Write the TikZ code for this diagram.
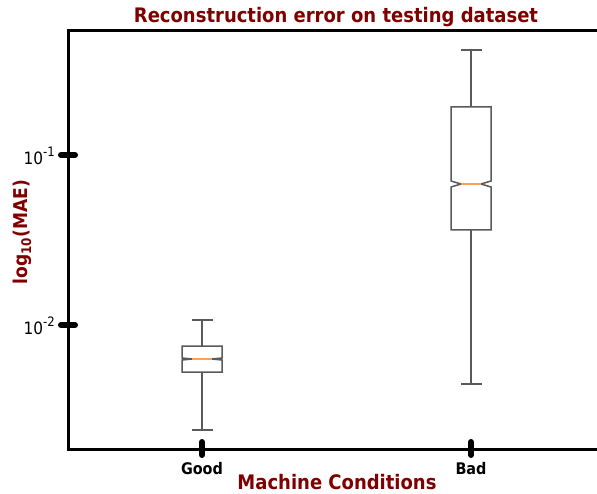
\documentclass[tikz,border=0pt]{standalone}
\usepackage{fontspec}
\setmainfont{DejaVu Sans Condensed}
\definecolor{titlered}{RGB}{128,0,0}
\definecolor{boxgrey}{RGB}{90,90,90}
\definecolor{medorange}{RGB}{255,160,90}
\begin{document}
\begin{tikzpicture}[x=1pt,y=-1pt,
  spine/.style={line width=3pt,black},
  ticklen/.style={line width=6pt,black,line cap=round},
  boxline/.style={draw=boxgrey,line width=1.5pt,line join=miter},
  whisk/.style={draw=boxgrey,line width=1.3pt},
  median/.style={draw=medorange,line width=1.5pt},
  redlabel/.style={text=titlered,font=\bfseries\fontsize{20}{22}\selectfont,inner sep=0pt},
  ticklabel/.style={font=\bfseries\fontsize{16}{18}\selectfont,inner sep=0pt},
  powlabel/.style={font=\fontsize{17}{19}\selectfont,inner sep=0pt,anchor=east}]
\useasboundingbox (0,0) rectangle (597,494);
\fill[white] (0,0) rectangle (597,494);

% title
\node[redlabel] (title) at (336,17) {Reconstruction error on testing dataset};

% frame
\coordinate (tl) at (68,31);
\coordinate (tr) at (597,31);
\coordinate (bl) at (68,449);
\coordinate (br) at (597,449);
\draw[spine,line cap=rect] (tr) -- (tl) -- (bl) -- (br);

% y ticks
\coordinate (ya) at (61,155);
\coordinate (yb) at (75,155);
\coordinate (yc) at (61,325);
\coordinate (yd) at (75,325);
\draw[ticklen] (ya) -- (yb);
\draw[ticklen] (yc) -- (yd);
\node[powlabel] (ytop) at (55,156) {10\raisebox{0.5em}{\fontsize{13}{15}\selectfont -1}};
\node[powlabel] (ybot) at (55,326) {10\raisebox{0.5em}{\fontsize{13}{15}\selectfont -2}};

% x ticks
\coordinate (xa) at (202,442);
\coordinate (xb) at (202,455);
\coordinate (xc) at (471,442);
\coordinate (xd) at (471,455);
\draw[ticklen] (xa) -- (xb);
\draw[ticklen] (xc) -- (xd);
\node[ticklabel] (good) at (202,469) {Good};
\node[ticklabel] (bad) at (471,469) {Bad};

% axis labels
\node[redlabel] (xlab) at (337,482) {Machine Conditions};
\node[redlabel,rotate=90,font=\bfseries\fontsize{19}{21}\selectfont] (ylab) at (22,232) {log\textsubscript{10}(MAE)};

% Good box
\coordinate (gtop) at (202,320);
\coordinate (gq3) at (202,346);
\coordinate (gq1) at (202,372);
\coordinate (gbot) at (202,430);
\draw[whisk] (gtop) -- (gq3);
\draw[whisk] (gq1) -- (gbot);
\draw[whisk] (192,320) -- (213,320);
\draw[whisk] (192,430) -- (213,430);
\draw[boxline] (182,346) -- (222,346) -- (222,358) -- (212,359) -- (222,360) -- (222,372)
  -- (182,372) -- (182,360) -- (192,359) -- (182,358) -- cycle;
\draw[median] (192,359) -- (212,359);

% Bad box
\coordinate (btop) at (471,50);
\coordinate (bq3) at (471,107);
\coordinate (bq1) at (471,230);
\coordinate (bbot) at (471,384);
\draw[whisk] (btop) -- (bq3);
\draw[whisk] (bq1) -- (bbot);
\draw[whisk] (461,50) -- (482,50);
\draw[whisk] (461,384) -- (482,384);
\draw[boxline] (451,107) -- (491,107) -- (491,181) -- (481,184) -- (491,187) -- (491,230)
  -- (451,230) -- (451,187) -- (461,184) -- (451,181) -- cycle;
\draw[median] (461,184) -- (481,184);
\end{tikzpicture}
\end{document}
